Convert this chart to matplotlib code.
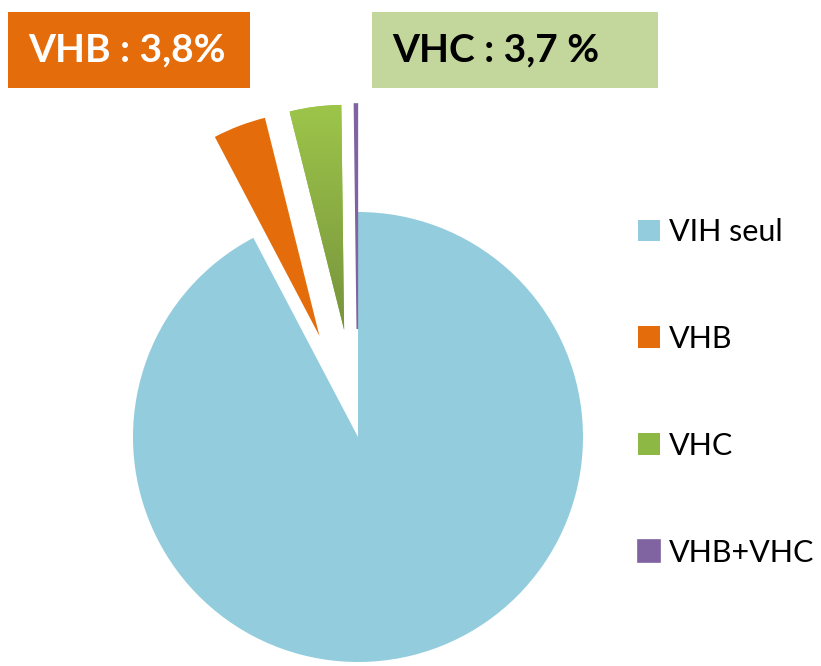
import matplotlib.pyplot as plt
import numpy as np
from matplotlib.patches import Rectangle
from matplotlib.colors import LinearSegmentedColormap

labels = ['VIH seul', 'VHB', 'VHC', 'VHB+VHC']
values = [92.3, 3.8, 3.7, 0.2]
colors = ['#93CDDD', '#E46C0A', '#8DB843', '#8064A2']
explode_frac = [0, 0.48, 0.48, 0.48]

box_texts = ['VHB : 3,8%', 'VHC : 3,7 %']
box_colors = ['#E46C0A', '#C3D69B']
box_text_colors = ['white', 'black']

plt.rcParams['font.family'] = ['Lato', 'DejaVu Sans']

W, H = 821, 666
R = 225
fig = plt.figure(figsize=(W / 100, H / 100), dpi=100)
ax = fig.add_axes([0, 0, 1, 1])

# pie in pixel coordinates (y up); explode is in data units here
wedges, _ = ax.pie(values, colors=colors, explode=[e * R for e in explode_frac],
                   startangle=90, counterclock=False, center=(358, H - 437),
                   radius=R, wedgeprops=dict(linewidth=0))
wedges[3].set_edgecolor('#8064A2')
wedges[3].set_linewidth(1.2)

# vertical gradient on the green wedge, like the reference
green = LinearSegmentedColormap.from_list('g', ['#77933C', '#9DC54A'])
grad = np.linspace(0, 1, 256).reshape(-1, 1)
ext = wedges[2].get_path().get_extents()
img = ax.imshow(grad, cmap=green, origin='lower', aspect='auto',
                extent=[ext.x0, ext.x1, ext.y0, ext.y1], zorder=wedges[2].get_zorder() + 0.1)
img.set_clip_path(wedges[2])

ax.set_xlim(0, W)
ax.set_ylim(0, H)
ax.set_aspect('equal')
ax.axis('off')

# label boxes at the top
box_pos = [(8, 12, 242, 76), (372, 12, 286, 76)]
for (x, y, w, h), txt, bc, tc in zip(box_pos, box_texts, box_colors, box_text_colors):
    ax.add_patch(Rectangle((x, H - y - h), w, h, facecolor=bc, edgecolor='none'))
    ax.text(x + 20, H - y - h / 2, txt, color=tc, fontsize=28, fontweight='bold',
            ha='left', va='center')

leg = ax.legend(wedges, labels, loc='upper left', bbox_to_anchor=(626 / W, 1 - 206 / H),
                frameon=False, fontsize=22, handlelength=0.72, handleheight=0.72,
                handletextpad=0.3, labelspacing=2.58, borderaxespad=0)

fig.savefig('out.png', dpi=100)
